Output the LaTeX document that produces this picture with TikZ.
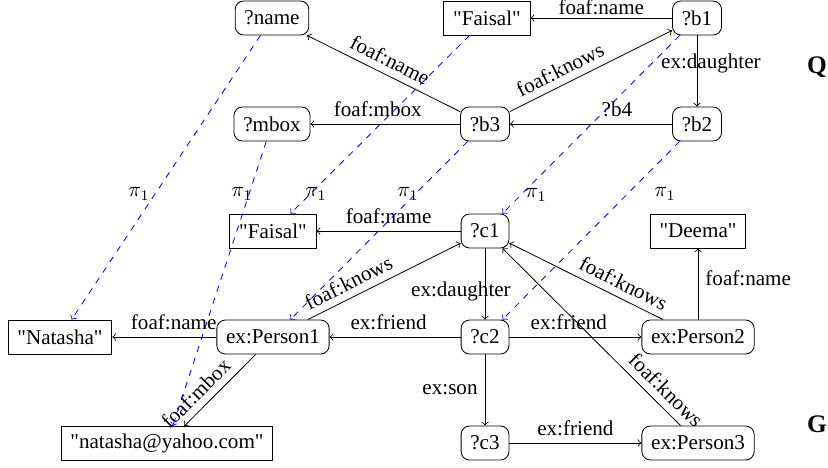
\documentclass[tikz,border=0pt]{standalone}
\usepackage{fontspec}
\setmainfont{Liberation Serif}[Ligatures=TeXOff]
\begin{document}
\begin{tikzpicture}[x=0.474pt,y=-0.474pt,
  var/.style={draw, rounded corners=4pt, minimum height=16.1pt, inner xsep=4.4pt, inner ysep=0pt},
  lit/.style={draw, rectangle, minimum height=16.1pt, inner xsep=4.4pt, inner ysep=0pt},
  edge/.style={->},
  map/.style={->, dashed, blue},
  pilab/.style={inner sep=0pt},
  graphlab/.style={font=\large\bfseries, inner sep=0pt}
]
\useasboundingbox (0,0) rectangle (828,467);

% Q nodes
\node[var] (name) at (272,18) {?name};
\node[lit] (faisalQ) at (487,18) {"Faisal"};
\node[var] (b1) at (697,18) {?b1};
\node[var] (mbox) at (272,124) {?mbox};
\node[var] (b3) at (485,124) {?b3};
\node[var] (b2) at (697,124) {?b2};
% G nodes
\node[lit] (faisalG) at (273,231) {"Faisal"};
\node[var] (c1) at (485,231) {?c1};
\node[lit] (deema) at (698,231) {"Deema"};
\node[lit] (natasha) at (60,337) {"Natasha"};
\node[var] (p1) at (273,337) {ex:Person1};
\node[var] (c2) at (485,337) {?c2};
\node[var] (p2) at (698,337) {ex:Person2};
\node[lit] (email) at (167,443.5) {"natasha@yahoo.com"};
\node[var] (c3) at (485,443) {?c3};
\node[var] (p3) at (698,443) {ex:Person3};

\node[graphlab] (Q) at (817,67) {Q};
\node[graphlab] (G) at (817,424) {G};

% Q edges
\draw[edge] (b1) -- node[above=1.5pt, inner sep=0pt] {foaf:name} (faisalQ);
\draw[edge] (b3) -- node[sloped, above] {foaf:name} (name);
\draw[edge] (b3) -- node[sloped, above, pos=0.35] {foaf:knows} (b1);
\draw[edge] (b1) -- node[pos=0.4, xshift=6.6pt] {ex:daughter} (b2);
\draw[edge] (b2) -- node[above, pos=0.34] {?b4} (b3);
\draw[edge] (b3) -- node[above, pos=0.55] {foaf:mbox} (mbox);

% G edges
\draw[edge] (c1) -- node[above] {foaf:name} (faisalG);
\draw[edge] (p1) -- node[sloped, above, pos=0.31] {foaf:knows} (c1);
\draw[edge] (c1) -- node[pos=0.61, xshift=-11.4pt] {ex:daughter} (c2);
\draw[edge] (c2) -- node[above, pos=0.55] {ex:friend} (p1);
\draw[edge] (c2) -- node[above, pos=0.45] {ex:friend} (p2);
\draw[edge] (p2) -- node[sloped, above, pos=0.3] {foaf:knows} (c1);
\draw[edge] (p2) -- node[right, pos=0.58] {foaf:name} (deema);
\draw[edge] (p1) -- node[above, pos=0.41] {foaf:name} (natasha);
\draw[edge] (p1) -- node[sloped, above, pos=0.69] {foaf:mbox} (email);
\draw[edge] (c2) -- node[left] {ex:son} (c3);
\draw[edge] (c3) -- node[above] {ex:friend} (p3);
\draw[edge] (p3) -- node[sloped, above, pos=0.14] {foaf:knows} (c1);

% mappings
\draw[map] (name) -- (natasha);
\draw[map] (mbox) -- (email);
\draw[map] (faisalQ) -- (faisalG);
\draw[map] (b3) -- (p1);
\draw[map] (b1) -- (c1);
\draw[map] (b2) -- (c2);

\node[pilab] (pi1) at (139,194) {$\pi_1$};
\node[pilab] (pi2) at (242,194) {$\pi_1$};
\node[pilab] (pi3) at (316,194) {$\pi_1$};
\node[pilab] (pi4) at (408,194) {$\pi_1$};
\node[pilab] (pi5) at (536,195) {$\pi_1$};
\node[pilab] (pi6) at (665,194) {$\pi_1$};
\end{tikzpicture}
\end{document}
